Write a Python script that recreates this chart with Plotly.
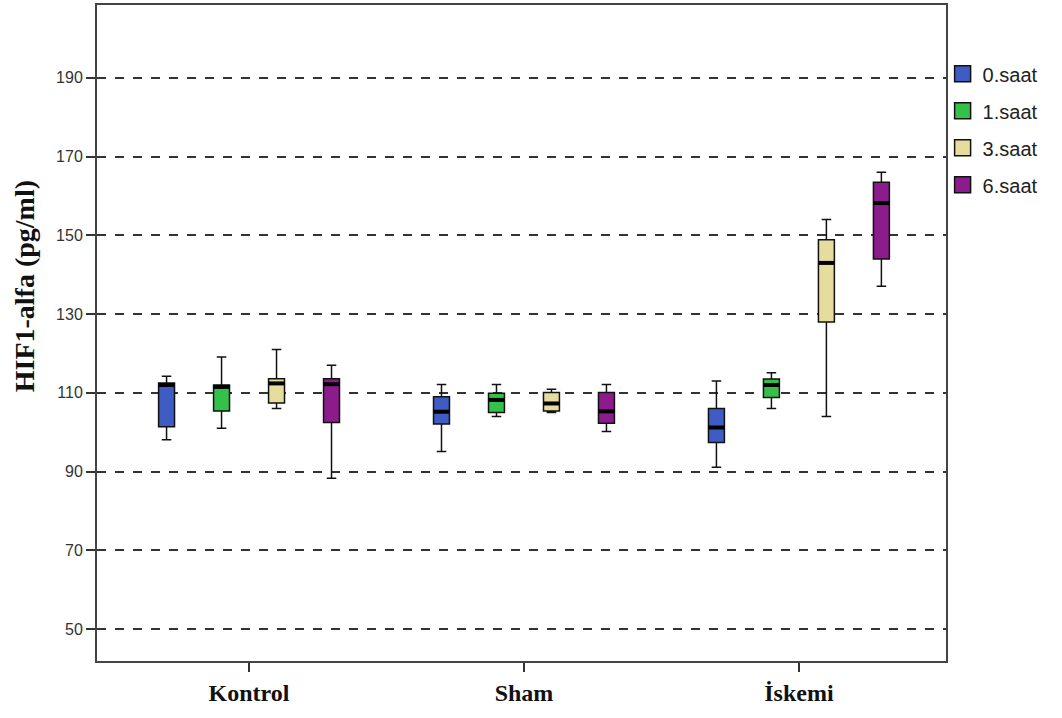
import plotly.graph_objects as go

groups = ["Kontrol", "Sham", "İskemi"]
series = ["0.saat", "1.saat", "3.saat", "6.saat"]
colors = ["#3F5CC4", "#35C04A", "#E6DC9E", "#8C1C8C"]

# per series: values for Kontrol, Sham, İskemi
lower = {
    "0.saat": [98.1, 95.1, 91.1],
    "1.saat": [101.0, 104.0, 106.0],
    "3.saat": [106.0, 105.0, 104.0],
    "6.saat": [88.3, 100.2, 137.1],
}
q1 = {
    "0.saat": [101.4, 102.1, 97.4],
    "1.saat": [105.4, 105.0, 108.8],
    "3.saat": [107.4, 105.4, 128.0],
    "6.saat": [102.5, 102.3, 144.0],
}
median = {
    "0.saat": [112.0, 105.2, 101.2],
    "1.saat": [111.5, 108.2, 112.0],
    "3.saat": [112.4, 107.3, 143.0],
    "6.saat": [112.2, 105.3, 158.2],
}
q3 = {
    "0.saat": [112.5, 109.0, 106.0],
    "1.saat": [112.0, 109.9, 113.5],
    "3.saat": [113.6, 110.1, 148.9],
    "6.saat": [113.6, 110.1, 163.5],
}
upper = {
    "0.saat": [114.2, 112.1, 113.0],
    "1.saat": [119.1, 112.1, 115.1],
    "3.saat": [121.0, 110.9, 154.0],
    "6.saat": [117.0, 112.1, 166.0],
}

y_ticks = [50, 70, 90, 110, 130, 150, 170, 190]
y_title = "HIF1-alfa (pg/ml)"

offsets = [-0.3, -0.1, 0.1, 0.3]
box_w = 0.058

fig = go.Figure()
for si, s in enumerate(series):
    xs = [gi + offsets[si] for gi in range(len(groups))]
    fig.add_trace(go.Box(
        x=xs, q1=q1[s], median=median[s], q3=q3[s],
        lowerfence=lower[s], upperfence=upper[s],
        width=box_w, whiskerwidth=0.6,
        fillcolor=colors[si], line=dict(color="#111111", width=1.5),
        name=s, showlegend=False, hoverinfo="skip", legendgroup=s,
    ))
    # thick median lines
    mx, my = [], []
    for gi in range(len(groups)):
        mx += [xs[gi] - box_w / 2, xs[gi] + box_w / 2, None]
        my += [median[s][gi], median[s][gi], None]
    fig.add_trace(go.Scatter(x=mx, y=my, mode="lines",
                             line=dict(color="#000000", width=4),
                             showlegend=False, hoverinfo="skip", legendgroup=s))

for si, s in enumerate(series):
    fig.add_trace(go.Scatter(
        x=[None], y=[None], mode="markers", name=s, legendgroup=s,
        marker=dict(symbol="square", size=22, color=colors[si],
                    line=dict(color="#111111", width=1.5)),
    ))

fig.update_layout(
    width=1062, height=718,
    margin=dict(l=97, r=116, t=3, b=57),
    paper_bgcolor="white", plot_bgcolor="white",
    showlegend=True,
    legend=dict(x=0.996, y=0.925, xanchor="left", yanchor="top",
                font=dict(family="Liberation Sans, Arial", size=20, color="#222"),
                tracegroupgap=8, itemwidth=30, groupclick="toggleitem",
                bgcolor="rgba(0,0,0,0)"),
    xaxis=dict(range=[-0.553, 2.535], tickmode="array", tickvals=[0, 1, 2],
               ticktext=["<b>%s</b>" % g for g in groups], ticks="outside",
               ticklen=9, tickwidth=1.5,
               tickcolor="#333", showgrid=False, zeroline=False,
               showline=True, linecolor="#444", linewidth=2, mirror=True,
               tickfont=dict(family="Liberation Serif, Times New Roman", size=24,
                             color="#111"),
               ),
    yaxis=dict(range=[41.9, 208.5], tickmode="array", tickvals=y_ticks,
               ticks="outside", ticklen=9, tickwidth=1.5, tickcolor="#333",
               showgrid=True, gridcolor="#333", gridwidth=2, griddash="dash",
               zeroline=False, showline=True, linecolor="#444", linewidth=2,
               mirror=True,
               tickfont=dict(family="Liberation Sans, Arial", size=16, color="#333")),
    annotations=[dict(text="<b>%s</b>" % y_title, textangle=-90,
                      xref="paper", yref="paper", x=-0.085, y=0.571,
                      xanchor="center", yanchor="middle", showarrow=False,
                      font=dict(family="Liberation Serif, Times New Roman",
                                size=28, color="#111"))],
)

fig.write_html("out.html", config={"displayModeBar": False},
               post_script="document.body.style.margin='0px';")
